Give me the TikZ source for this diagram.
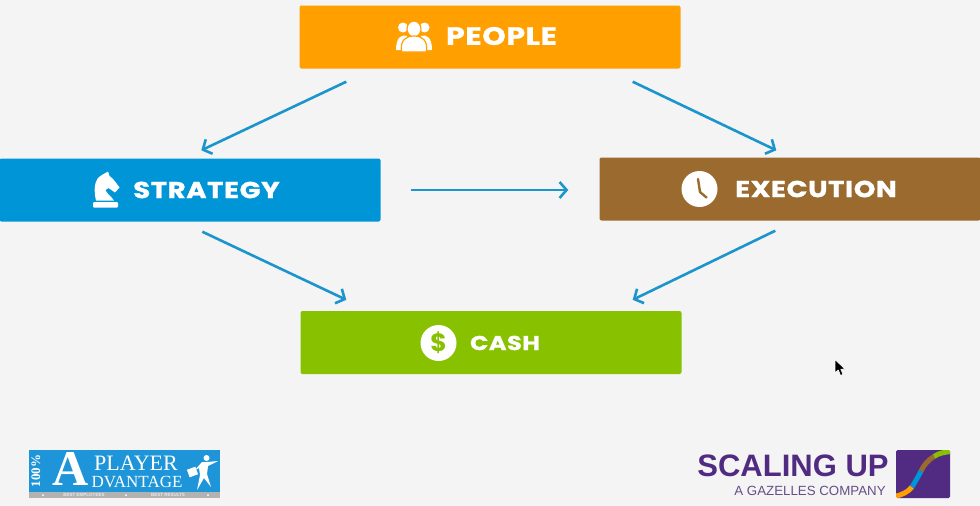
\documentclass[tikz,border=0pt]{standalone}
\usepackage{fontspec}
\setmainfont{Poppins}
\newfontfamily\labelfont[FakeStretch=1.2,FakeBold=1.2,LetterSpace=2.5]{Poppins Bold}
\newfontfamily\logoserif{Liberation Serif}
\newfontfamily\logosans{Liberation Sans}
\usetikzlibrary{arrows.meta}
\definecolor{pagebg}{HTML}{F4F4F4}
\definecolor{peopleorange}{HTML}{FFA000}
\definecolor{strategyblue}{HTML}{0095D6}
\definecolor{executionbrown}{HTML}{9A6A2E}
\definecolor{cashgreen}{HTML}{88C100}
\definecolor{flowblue}{HTML}{1C94CC}
\definecolor{logoblue}{HTML}{1E95D8}
\definecolor{logopurple}{HTML}{512A82}
\tikzset{
    box/.style={minimum width=381pt,minimum height=63pt,inner sep=0pt,rounded corners=2pt},
    boxtext/.style={text=white,inner sep=0pt,font=\labelfont\fontsize{23}{23}\selectfont},
    logotext/.style={text=white,inner sep=0pt},
    flow/.style={draw=flowblue,line width=2.6pt,-{Straight Barb[length=7pt,width=16pt,line width=2.6pt]}}
}
\begin{document}
\begin{tikzpicture}[x=1pt,y=-1pt]
    \fill[pagebg] (0,0) rectangle (980,506);
    \useasboundingbox (0,0) rectangle (980,506);
    % boxes
    \node[box,fill=peopleorange] (people) at (490,37) {};
    \node[box,fill=strategyblue] (strategy) at (190,190) {};
    \node[box,fill=executionbrown] (execution) at (790,189) {};
    \node[box,fill=cashgreen] (cash) at (491,342.5) {};
    \node[boxtext,font=\labelfont\fontsize{25}{25}\selectfont] (peoplelabel) at (501.5,36) {PEOPLE};
    \node[boxtext] (strategylabel) at (206.5,190) {STRATEGY};
    \node[boxtext] (executionlabel) at (816,189) {EXECUTION};
    \node[boxtext,font=\labelfont\fontsize{20}{20}\selectfont] (cashlabel) at (505,343) {CASH};
    % arrows
    \draw[flow] ([xshift=47pt,yshift=-13pt]people.south west) -- ([xshift=202pt,yshift=8pt]strategy.north west);
    \draw[flow] ([xshift=-48pt,yshift=-13pt]people.south east) -- ([xshift=177pt,yshift=7pt]execution.north west);
    \draw[flow] ([xshift=30pt]strategy.east) -- ([xshift=-31pt,yshift=-1pt]execution.west);
    \draw[flow] ([xshift=203pt,yshift=-10pt]strategy.south west) -- ([xshift=46pt,yshift=11pt]cash.north west);
    \draw[flow] ([xshift=176pt,yshift=-10pt]execution.south west) -- ([xshift=-49pt,yshift=11pt]cash.north east);
    % people icon
    \fill[white] (403,27.5) circle (5);
    \fill[white] (424.5,27.5) circle (5);
    \fill[white] (396,50) .. controls (396,37) and (402,34) .. (407,36) -- (410,50) -- cycle;
    \fill[white] (432,50) .. controls (432,37) and (426,34) .. (421,36) -- (418,50) -- cycle;
    \fill[white,draw=peopleorange,line width=1.2pt] (414,29) ellipse (7 and 8);
    \fill[white,draw=peopleorange,line width=1.2pt] (401.5,52) .. controls (400,40) and (406,36) .. (414,36) .. controls (422,36) and (428,40) .. (426.5,52) -- cycle;
    % knight icon
    \fill[white,rounded corners=1pt] (93,202) rectangle (118,207.5);
    \fill[white] (96,200.5) .. controls (94,192) and (94,183) .. (98,178) .. controls (101,175) and (104,174) .. (108,171.5)
        -- (109.5,176) .. controls (113,178) and (116,183) .. (119.5,187.5) -- (115,192.5) -- (108.5,188) -- (105.5,190) .. controls (107,194) and (111,196) .. (114,200.5) -- cycle;
    % clock icon
    \fill[white] (699.5,189) circle (18);
    \draw[executionbrown,line width=2.4pt,line cap=round,line join=round] (698,179) -- (700,192) -- (706.5,197.5);
    % dollar icon
    \node[circle,fill=white,minimum size=36pt,inner sep=0pt,text=cashgreen,font=\fontsize{25}{25}\selectfont\bfseries] (cashicon) at (438.5,343) {\$};
    % left logo
    \fill[logoblue] (29,450) rectangle (220,491.5);
    \fill[black!30] (29,491.5) rectangle (220,498);
    \node[logotext,rotate=90,font=\logoserif\fontsize{13}{13}\selectfont\bfseries] (hundred) at (36,471) {100\%};
    \node[logotext,font=\logoserif\fontsize{50}{50}\selectfont\bfseries] (biga) at (71,469) {A};
    \node[logotext,font=\logoserif\fontsize{22}{22}\selectfont] (playerlabel) at (136,463.5) {PLAYER};
    \node[logotext,font=\logoserif\fontsize{17}{17}\selectfont] (dvantagelabel) at (137,482) {DVANTAGE};
    \node[logotext,opacity=0.7,font=\logosans\fontsize{4.5}{4.5}\selectfont\bfseries] (bestemployees) at (84,495) {BEST EMPLOYEES};
    \node[logotext,opacity=0.7,font=\logosans\fontsize{4.5}{4.5}\selectfont\bfseries] (bestresults) at (168,495) {BEST RESULTS};
    \foreach \dotx in {43,126,208}
        \fill[white] (\dotx,495) circle (1);
    % woman on the left logo
    \fill[white] (206.5,458) circle (3);
    \fill[white] (202,462) -- (207,462) -- (218,461) -- (208,466) -- (207,474) -- (211,487) -- (204,478) -- (197,490) -- (200,475) -- (199,468) -- (195,470) -- cycle;
    \fill[white,rotate around={20:(192.5,472)}] (188,468) rectangle (197,476);
    % right logo
    \node[text=logopurple,inner sep=0pt,font=\logosans\fontsize{31}{31}\selectfont\bfseries] (scalinglabel) at (793,466) {SCALING UP};
    \node[text=logopurple!80!black!80,inner sep=0pt,font=\logosans\fontsize{13.3}{13.3}\selectfont] (gazelleslabel) at (810,490.5) {A GAZELLES COMPANY};
    \fill[logopurple,rounded corners=1.5pt] (896,450) rectangle (950,498);
    \begin{scope}
        \clip[rounded corners=1.5pt] (896,450) rectangle (950,498);
        \draw[line width=5pt,peopleorange] (894,496.5) .. controls (902,495) and (908,492) .. (912,487);
        \draw[line width=5pt,strategyblue] (912,487) .. controls (915,482) and (918,477) .. (921,471);
        \draw[line width=5pt,executionbrown] (921,471) .. controls (924,465) and (928,460) .. (934,456.5);
        \draw[line width=5pt,cashgreen] (934,456.5) .. controls (939,453) and (945,452) .. (952,451.5);
    \end{scope}
    % cursor
    \fill[black,draw=white,line width=0.7pt,line join=round] (835,359.5) -- (835,373) -- (838.3,370) -- (840.5,375.5) -- (843,374.3) -- (840.8,369.3) -- (845,369) -- cycle;
\end{tikzpicture}
\end{document}
